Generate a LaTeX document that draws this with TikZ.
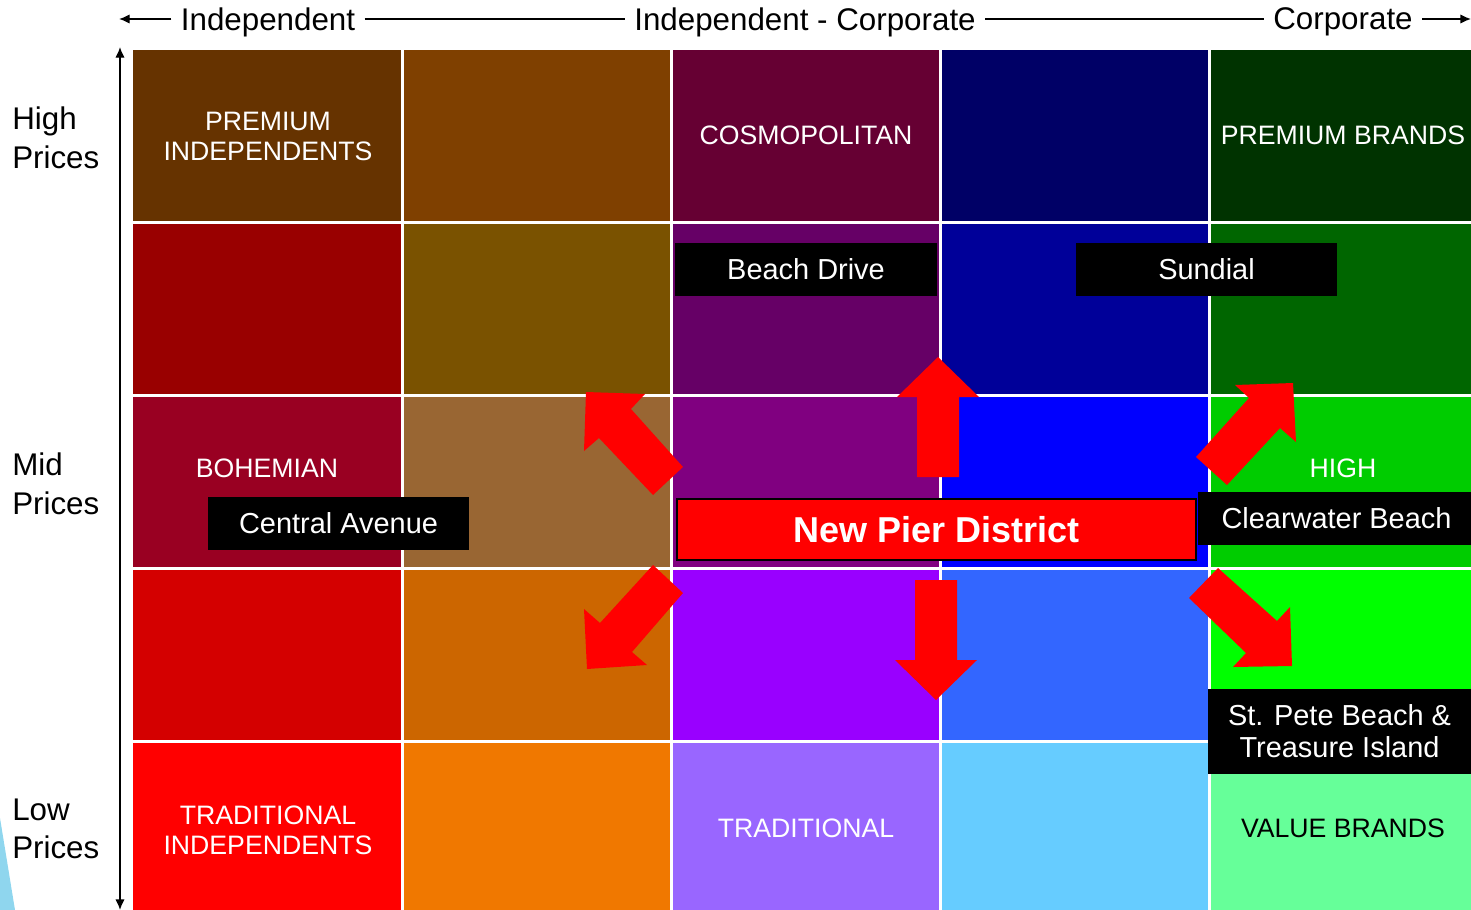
\documentclass[tikz,border=0pt]{standalone}
\usepackage{fontspec}
\setmainfont{Liberation Sans}
\usepackage{tikz}
\usetikzlibrary{arrows.meta}

\definecolor{cAa}{HTML}{663300}
\definecolor{cAb}{HTML}{7F4000}
\definecolor{cAc}{HTML}{660033}
\definecolor{cAd}{HTML}{000066}
\definecolor{cAe}{HTML}{003300}
\definecolor{cBa}{HTML}{990000}
\definecolor{cBb}{HTML}{7A5200}
\definecolor{cBc}{HTML}{660066}
\definecolor{cBd}{HTML}{000099}
\definecolor{cBe}{HTML}{006600}
\definecolor{cCa}{HTML}{990022}
\definecolor{cCb}{HTML}{996633}
\definecolor{cCc}{HTML}{800080}
\definecolor{cCd}{HTML}{0000FF}
\definecolor{cCe}{HTML}{00CC00}
\definecolor{cDa}{HTML}{D40000}
\definecolor{cDb}{HTML}{CC6600}
\definecolor{cDc}{HTML}{9900FF}
\definecolor{cDd}{HTML}{3366FF}
\definecolor{cDe}{HTML}{00FF00}
\definecolor{cEa}{HTML}{FF0000}
\definecolor{cEb}{HTML}{F07800}
\definecolor{cEc}{HTML}{9966FF}
\definecolor{cEd}{HTML}{66CCFF}
\definecolor{cEe}{HTML}{66FF99}
\definecolor{sliver}{HTML}{8FD6EE}

\tikzset{
  axistext/.style={fill=white,inner xsep=7pt,inner ysep=2pt,font=\fontsize{23.5}{29}\selectfont},
  sidetext/.style={anchor=west,align=left,inner sep=0pt,font=\fontsize{23.5}{29}\selectfont},
  celltext/.style={text=white,align=center,inner sep=0pt,font=\fontsize{20}{22.5}\selectfont},
  tagbox/.style={fill=black,text=white,align=center,inner sep=0pt,font=\fontsize{21.7}{24}\selectfont},
  bigarrow/.style={fill=red},
  axisline/.style={line width=1pt,arrows={-{Latex[length=8pt,width=7pt]}}}
}

\begin{document}
\begin{tikzpicture}[x=0.75pt,y=0.75pt,yscale=-1,xscale=1]
\useasboundingbox (0,0) rectangle (1471,910);

%Shape: light blue sliver
\fill[sliver] (0,818) -- (15,910) -- (0,910) -- cycle ;

%Cells: High Prices row
\fill[cAa] (133,50) rectangle (402.5,222.5) ;
\fill[cAb] (402.5,50) rectangle (671.5,222.5) ;
\fill[cAc] (671.5,50) rectangle (940.5,222.5) ;
\fill[cAd] (940.5,50) rectangle (1209.5,222.5) ;
\fill[cAe] (1209.5,50) rectangle (1471,222.5) ;
%Cells: second row
\fill[cBa] (133,222.5) rectangle (402.5,395.5) ;
\fill[cBb] (402.5,222.5) rectangle (671.5,395.5) ;
\fill[cBc] (671.5,222.5) rectangle (940.5,395.5) ;
\fill[cBd] (940.5,222.5) rectangle (1209.5,395.5) ;
\fill[cBe] (1209.5,222.5) rectangle (1471,395.5) ;
%Cells: Mid Prices row
\fill[cCa] (133,395.5) rectangle (402.5,568.5) ;
\fill[cCb] (402.5,395.5) rectangle (671.5,568.5) ;
\fill[cCc] (671.5,395.5) rectangle (940.5,568.5) ;
\fill[cCd] (940.5,395.5) rectangle (1209.5,568.5) ;
\fill[cCe] (1209.5,395.5) rectangle (1471,568.5) ;
%Cells: fourth row
\fill[cDa] (133,568.5) rectangle (402.5,741.5) ;
\fill[cDb] (402.5,568.5) rectangle (671.5,741.5) ;
\fill[cDc] (671.5,568.5) rectangle (940.5,741.5) ;
\fill[cDd] (940.5,568.5) rectangle (1209.5,741.5) ;
\fill[cDe] (1209.5,568.5) rectangle (1471,741.5) ;
%Cells: Low Prices row
\fill[cEa] (133,741.5) rectangle (402.5,910) ;
\fill[cEb] (402.5,741.5) rectangle (671.5,910) ;
\fill[cEc] (671.5,741.5) rectangle (940.5,910) ;
\fill[cEd] (940.5,741.5) rectangle (1209.5,910) ;
\fill[cEe] (1209.5,741.5) rectangle (1471,910) ;

%Grid lines
\draw[white,line width=2.25pt] (402.5,50) -- (402.5,910) (671.5,50) -- (671.5,910) (940.5,50) -- (940.5,910) (1209.5,50) -- (1209.5,910) ;
\draw[white,line width=2.25pt] (133,222.5) -- (1471,222.5) (133,395.5) -- (1471,395.5) (133,568.5) -- (1471,568.5) (133,741.5) -- (1471,741.5) ;

% Cell texts
\node[celltext] (premind) at (268,136) {PREMIUM\\INDEPENDENTS};
\node[celltext] (cosmo) at (806,135) {COSMOPOLITAN};
\node[celltext] (prembr) at (1343,135) {PREMIUM BRANDS};
\node[celltext] (bohem) at (267,468) {BOHEMIAN};
\node[celltext] (high) at (1343,468) {HIGH};
\node[celltext] (tradind) at (268,830) {TRADITIONAL\\INDEPENDENTS};
\node[celltext] (trad) at (806,828) {TRADITIONAL};
\node[celltext,text=black] (valbr) at (1343,828) {VALUE BRANDS};

%Shape: block arrows
\fill[bigarrow] (917,477) -- (917,397) -- (897,397) -- (938,357) -- (979,397) -- (959,397) -- (959,477) -- cycle ;
\fill[bigarrow] (915,580) -- (915,660) -- (895,660) -- (936,700) -- (977,660) -- (957,660) -- (957,580) -- cycle ;
\fill[bigarrow] (653,495) -- (599,438) -- (584,451) -- (586,392) -- (645,394) -- (631,409) -- (683,467) -- cycle ;
\fill[bigarrow] (653,565) -- (683,593) -- (632,652) -- (647,665) -- (587,669) -- (584,609) -- (600,623) -- cycle ;
\fill[bigarrow] (1196,457) -- (1249,398) -- (1235,385) -- (1293,383) -- (1296,442) -- (1280,428) -- (1227,485) -- cycle ;
\fill[bigarrow] (1218,568) -- (1277,621) -- (1290,607) -- (1292,666) -- (1233,667) -- (1246,653) -- (1189,598) -- cycle ;

% Place tags
\node[tagbox,minimum width=196.5pt,minimum height=39.75pt] (beach) at (806,269.5) {Beach Drive};
\node[tagbox,minimum width=195.75pt,minimum height=39.75pt] (sundial) at (1206.5,269.5) {Sundial};
\node[tagbox,minimum width=195.75pt,minimum height=39.75pt] (central) at (338.5,523.5) {Central Avenue};
\node[tagbox,minimum width=204.75pt,minimum height=39.75pt] (clearw) at (1334.5,518.5) {\hspace*{3pt}Clearwater Beach};
\node[tagbox,minimum width=197.25pt,minimum height=63.75pt] (stpete) at (1339.5,731.5) {St. Pete Beach \&\\Treasure Island};
\node[draw=black,line width=1.5pt,fill=red,text=white,inner sep=0pt,minimum width=389pt,minimum height=46pt,font=\fontsize{27}{30}\selectfont\bfseries] (newpier) at (936.5,529.5) {New Pier District};

% Top axis
\coordinate (leftend) at (119,19);
\coordinate (rightend) at (1471,19);
\node[axistext] (indep) at (268,22) {Independent};
\node[axistext] (indcorp) at (805,22) {Independent - Corporate};
\node[axistext] (corp) at (1343,22) {Corporate};
\draw[axisline] (indep.west |- leftend) -- (leftend) ;
\draw[line width=1pt] (indep.east |- leftend) -- (indcorp.west |- leftend) ;
\draw[line width=1pt] (indcorp.east |- leftend) -- (corp.west |- leftend) ;
\draw[axisline] (corp.east |- rightend) -- (rightend) ;

% Side axis
\coordinate (topend) at (120,47);
\coordinate (botend) at (120,910);
\draw[axisline,arrows={{Latex[length=8pt,width=7pt]}-{Latex[length=8pt,width=7pt]}}] (topend) -- (botend) ;
\node[sidetext] (highp) at (12,138) {High\\Prices};
\node[sidetext] (midp) at (12,484) {Mid\\Prices};
\node[sidetext] (lowp) at (12,829) {Low\\Prices};

\end{tikzpicture}
\end{document}
